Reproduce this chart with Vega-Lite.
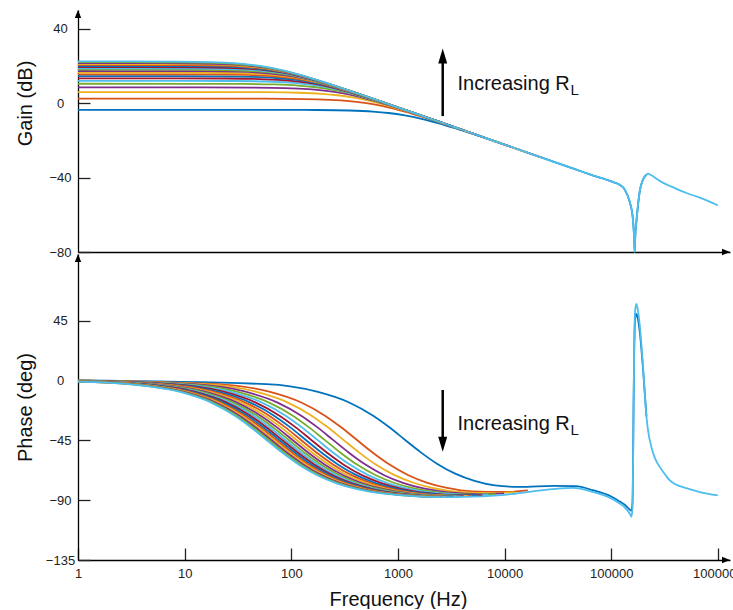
{
"$schema":"https://vega.github.io/schema/vega-lite/v6.json",
"padding":{"left":15,"top":10,"right":0,"bottom":0},
"spacing":2,
"bounds":"flush",
"config":{"view":{"stroke":null},"font":"Liberation Sans",
 "axis":{"domainColor":"#000","domainWidth":1.3,"tickColor":"#222","tickWidth":1.3,"labelColor":"#222","titleColor":"#111","labelFont":"Liberation Sans","titleFont":"Liberation Sans","titleFontWeight":"normal","labelFontSize":13,"titleFontSize":20,"grid":false,"labelOverlap":false,"labelFlush":false}},
"datasets":{
"gain":[
{"n":1,"f":1,"g":-3.61},{"n":1,"f":58.1,"g":-3.62},{"n":1,"f":174.3,"g":-3.71},{"n":1,"f":348.6,"g":-3.98},{"n":1,"f":581,"g":-4.58},{"n":1,"f":813.4,"g":-5.34},{"n":1,"f":1162,"g":-6.62},{"n":1,"f":1626.8,"g":-8.29},{"n":1,"f":2324,"g":-10.6},{"n":1,"f":3486,"g":-13.61},{"n":1,"f":5229,"g":-16.88},{"n":1,"f":8134,"g":-20.6},{"n":1,"f":13944,"g":-25.22},{"n":1,"f":29050,"g":-31.58},{"n":1,"f":46480,"g":-35.65},{"n":1,"f":67000,"g":-38.82},{"n":1,"f":100000,"g":-42.1},{"n":1,"f":120000,"g":-43.9},{"n":1,"f":134000,"g":-46.5},{"n":1,"f":149000,"g":-53},{"n":1,"f":155000,"g":-57},{"n":1,"f":158500,"g":-60.5},{"n":1,"f":160000,"g":-63},{"n":1,"f":162000,"g":-67},{"n":1,"f":164500,"g":-74},{"n":1,"f":166000,"g":-80},{"n":1,"f":168000,"g":-72},{"n":1,"f":172000,"g":-64},{"n":1,"f":174600,"g":-60},{"n":1,"f":185000,"g":-47.5},{"n":1,"f":199000,"g":-41},{"n":1,"f":214000,"g":-38.5},
{"n":2,"f":1,"g":2.41},{"n":2,"f":29.05,"g":2.4},{"n":2,"f":87.15,"g":2.31},{"n":2,"f":174.3,"g":2.04},{"n":2,"f":290.5,"g":1.44},{"n":2,"f":406.7,"g":0.68},{"n":2,"f":581,"g":-0.6},{"n":2,"f":813.4,"g":-2.27},{"n":2,"f":1162,"g":-4.58},{"n":2,"f":1743,"g":-7.59},{"n":2,"f":2614.5,"g":-10.86},{"n":2,"f":4067,"g":-14.58},{"n":2,"f":6972,"g":-19.2},{"n":2,"f":14525,"g":-25.56},{"n":2,"f":23240,"g":-29.63},
{"n":3,"f":1,"g":5.93},{"n":3,"f":19.37,"g":5.92},{"n":3,"f":58.1,"g":5.83},{"n":3,"f":116.2,"g":5.56},{"n":3,"f":193.7,"g":4.96},{"n":3,"f":271.1,"g":4.2},{"n":3,"f":387.3,"g":2.92},{"n":3,"f":542.2,"g":1.25},{"n":3,"f":774.6,"g":-1.06},{"n":3,"f":1162,"g":-4.07},{"n":3,"f":1743,"g":-7.34},{"n":3,"f":2711,"g":-11.06},{"n":3,"f":4648,"g":-15.68},{"n":3,"f":9683,"g":-22.04},{"n":3,"f":15492,"g":-26.11},
{"n":4,"f":1,"g":8.43},{"n":4,"f":14.53,"g":8.42},{"n":4,"f":43.58,"g":8.33},{"n":4,"f":87.15,"g":8.06},{"n":4,"f":145.25,"g":7.46},{"n":4,"f":203.35,"g":6.7},{"n":4,"f":290.5,"g":5.42},{"n":4,"f":406.7,"g":3.75},{"n":4,"f":581,"g":1.44},{"n":4,"f":871.5,"g":-1.57},{"n":4,"f":1307,"g":-4.84},{"n":4,"f":2033.5,"g":-8.56},{"n":4,"f":3486,"g":-13.18},{"n":4,"f":7262.5,"g":-19.54},{"n":4,"f":11620,"g":-23.61},
{"n":5,"f":1,"g":10.37},{"n":5,"f":11.62,"g":10.36},{"n":5,"f":34.86,"g":10.27},{"n":5,"f":69.72,"g":10},{"n":5,"f":116.2,"g":9.4},{"n":5,"f":162.7,"g":8.64},{"n":5,"f":232.4,"g":7.36},{"n":5,"f":325.4,"g":5.69},{"n":5,"f":464.8,"g":3.38},{"n":5,"f":697.2,"g":0.37},{"n":5,"f":1045.8,"g":-2.9},{"n":5,"f":1626.8,"g":-6.62},{"n":5,"f":2788.8,"g":-11.24},{"n":5,"f":5810,"g":-17.6},{"n":5,"f":9296,"g":-21.67},
{"n":6,"f":1,"g":11.95},{"n":6,"f":9.685,"g":11.94},{"n":6,"f":29.06,"g":11.85},{"n":6,"f":58.11,"g":11.58},{"n":6,"f":96.85,"g":10.98},{"n":6,"f":135.6,"g":10.22},{"n":6,"f":193.7,"g":8.94},{"n":6,"f":271.2,"g":7.27},{"n":6,"f":387.4,"g":4.96},{"n":6,"f":581.1,"g":1.95},{"n":6,"f":871.7,"g":-1.32},{"n":6,"f":1355.9,"g":-5.04},{"n":6,"f":2324.4,"g":-9.66},{"n":6,"f":4842.5,"g":-16.02},{"n":6,"f":7748,"g":-20.09},
{"n":7,"f":1,"g":13.29},{"n":7,"f":8.3,"g":13.28},{"n":7,"f":24.9,"g":13.19},{"n":7,"f":49.8,"g":12.92},{"n":7,"f":83,"g":12.32},{"n":7,"f":116.2,"g":11.56},{"n":7,"f":166,"g":10.28},{"n":7,"f":232.4,"g":8.61},{"n":7,"f":332,"g":6.3},{"n":7,"f":498,"g":3.29},{"n":7,"f":747,"g":0.02},{"n":7,"f":1162,"g":-3.7},{"n":7,"f":1992,"g":-8.32},{"n":7,"f":4150,"g":-14.68},{"n":7,"f":6640,"g":-18.75},
{"n":8,"f":1,"g":14.45},{"n":8,"f":7.26,"g":14.44},{"n":8,"f":21.79,"g":14.35},{"n":8,"f":43.58,"g":14.08},{"n":8,"f":72.63,"g":13.48},{"n":8,"f":101.7,"g":12.72},{"n":8,"f":145.25,"g":11.44},{"n":8,"f":203.35,"g":9.77},{"n":8,"f":290.5,"g":7.46},{"n":8,"f":435.75,"g":4.45},{"n":8,"f":653.6,"g":1.18},{"n":8,"f":1016.75,"g":-2.54},{"n":8,"f":1743,"g":-7.16},{"n":8,"f":3631,"g":-13.52},{"n":8,"f":5810,"g":-17.59},
{"n":9,"f":1,"g":15.47},{"n":9,"f":6.46,"g":15.46},{"n":9,"f":19.37,"g":15.37},{"n":9,"f":38.73,"g":15.1},{"n":9,"f":64.55,"g":14.5},{"n":9,"f":90.37,"g":13.74},{"n":9,"f":129.1,"g":12.46},{"n":9,"f":180.7,"g":10.79},{"n":9,"f":258.2,"g":8.48},{"n":9,"f":387.3,"g":5.47},{"n":9,"f":581,"g":2.2},{"n":9,"f":903.7,"g":-1.52},{"n":9,"f":1549,"g":-6.14},{"n":9,"f":3228,"g":-12.5},{"n":9,"f":5164,"g":-16.57},
{"n":10,"f":1,"g":16.39},{"n":10,"f":5.81,"g":16.38},{"n":10,"f":17.43,"g":16.29},{"n":10,"f":34.86,"g":16.02},{"n":10,"f":58.1,"g":15.42},{"n":10,"f":81.34,"g":14.66},{"n":10,"f":116.2,"g":13.38},{"n":10,"f":162.7,"g":11.71},{"n":10,"f":232.4,"g":9.4},{"n":10,"f":348.6,"g":6.39},{"n":10,"f":522.9,"g":3.12},{"n":10,"f":813.4,"g":-0.6},{"n":10,"f":1394,"g":-5.22},{"n":10,"f":2905,"g":-11.58},{"n":10,"f":4648,"g":-15.65},
{"n":11,"f":1,"g":17.22},{"n":11,"f":5.28,"g":17.21},{"n":11,"f":15.84,"g":17.12},{"n":11,"f":31.68,"g":16.85},{"n":11,"f":52.8,"g":16.25},{"n":11,"f":73.92,"g":15.49},{"n":11,"f":105.6,"g":14.21},{"n":11,"f":147.8,"g":12.54},{"n":11,"f":211.2,"g":10.23},{"n":11,"f":316.8,"g":7.22},{"n":11,"f":475.2,"g":3.95},{"n":11,"f":739.2,"g":0.23},{"n":11,"f":1267,"g":-4.39},{"n":11,"f":2640,"g":-10.75},{"n":11,"f":4224,"g":-14.82},
{"n":12,"f":1,"g":17.97},{"n":12,"f":4.84,"g":17.96},{"n":12,"f":14.52,"g":17.87},{"n":12,"f":29.05,"g":17.6},{"n":12,"f":48.42,"g":17},{"n":12,"f":67.78,"g":16.24},{"n":12,"f":96.83,"g":14.96},{"n":12,"f":135.6,"g":13.29},{"n":12,"f":193.7,"g":10.98},{"n":12,"f":290.5,"g":7.97},{"n":12,"f":435.7,"g":4.7},{"n":12,"f":677.8,"g":0.98},{"n":12,"f":1162,"g":-3.64},{"n":12,"f":2421,"g":-10},{"n":12,"f":3873,"g":-14.07},
{"n":13,"f":1,"g":18.67},{"n":13,"f":4.47,"g":18.66},{"n":13,"f":13.41,"g":18.57},{"n":13,"f":26.81,"g":18.3},{"n":13,"f":44.69,"g":17.7},{"n":13,"f":62.57,"g":16.94},{"n":13,"f":89.38,"g":15.66},{"n":13,"f":125.1,"g":13.99},{"n":13,"f":178.8,"g":11.68},{"n":13,"f":268.1,"g":8.67},{"n":13,"f":402.2,"g":5.4},{"n":13,"f":625.7,"g":1.68},{"n":13,"f":1072.6,"g":-2.94},{"n":13,"f":2234.5,"g":-9.3},{"n":13,"f":3575,"g":-13.37},
{"n":14,"f":1,"g":19.31},{"n":14,"f":4.15,"g":19.3},{"n":14,"f":12.45,"g":19.21},{"n":14,"f":24.9,"g":18.94},{"n":14,"f":41.5,"g":18.34},{"n":14,"f":58.1,"g":17.58},{"n":14,"f":83,"g":16.3},{"n":14,"f":116.2,"g":14.63},{"n":14,"f":166,"g":12.32},{"n":14,"f":249,"g":9.31},{"n":14,"f":373.5,"g":6.04},{"n":14,"f":581,"g":2.32},{"n":14,"f":996,"g":-2.3},{"n":14,"f":2075,"g":-8.66},{"n":14,"f":3320,"g":-12.73},
{"n":15,"f":1,"g":19.91},{"n":15,"f":3.87,"g":19.9},{"n":15,"f":11.62,"g":19.81},{"n":15,"f":23.24,"g":19.54},{"n":15,"f":38.74,"g":18.94},{"n":15,"f":54.23,"g":18.18},{"n":15,"f":77.47,"g":16.9},{"n":15,"f":108.5,"g":15.23},{"n":15,"f":154.9,"g":12.92},{"n":15,"f":232.4,"g":9.91},{"n":15,"f":348.6,"g":6.64},{"n":15,"f":542.3,"g":2.92},{"n":15,"f":929.6,"g":-1.7},{"n":15,"f":1936.8,"g":-8.06},{"n":15,"f":3099,"g":-12.13},
{"n":16,"f":1,"g":20.47},{"n":16,"f":3.63,"g":20.46},{"n":16,"f":10.89,"g":20.37},{"n":16,"f":21.79,"g":20.1},{"n":16,"f":36.32,"g":19.5},{"n":16,"f":50.84,"g":18.74},{"n":16,"f":72.63,"g":17.46},{"n":16,"f":101.7,"g":15.79},{"n":16,"f":145.3,"g":13.48},{"n":16,"f":217.9,"g":10.47},{"n":16,"f":326.8,"g":7.2},{"n":16,"f":508.4,"g":3.48},{"n":16,"f":871.6,"g":-1.14},{"n":16,"f":1815.8,"g":-7.5},{"n":16,"f":2905,"g":-11.57},
{"n":17,"f":1,"g":21},{"n":17,"f":3.42,"g":20.99},{"n":17,"f":10.25,"g":20.9},{"n":17,"f":20.51,"g":20.63},{"n":17,"f":34.18,"g":20.03},{"n":17,"f":47.85,"g":19.27},{"n":17,"f":68.35,"g":17.99},{"n":17,"f":95.69,"g":16.32},{"n":17,"f":136.7,"g":14.01},{"n":17,"f":205.1,"g":11},{"n":17,"f":307.6,"g":7.73},{"n":17,"f":478.5,"g":4.01},{"n":17,"f":820.2,"g":-0.61},{"n":17,"f":1708.8,"g":-6.97},{"n":17,"f":2734,"g":-11.04},
{"n":18,"f":1,"g":21.5},{"n":18,"f":3.23,"g":21.49},{"n":18,"f":9.68,"g":21.4},{"n":18,"f":19.37,"g":21.13},{"n":18,"f":32.28,"g":20.53},{"n":18,"f":45.19,"g":19.77},{"n":18,"f":64.56,"g":18.49},{"n":18,"f":90.38,"g":16.82},{"n":18,"f":129.1,"g":14.51},{"n":18,"f":193.7,"g":11.5},{"n":18,"f":290.5,"g":8.23},{"n":18,"f":451.9,"g":4.51},{"n":18,"f":774.7,"g":-0.11},{"n":18,"f":1614,"g":-6.47},{"n":18,"f":2582,"g":-10.54},
{"n":19,"f":1,"g":21.97},{"n":19,"f":3.06,"g":21.96},{"n":19,"f":9.17,"g":21.87},{"n":19,"f":18.35,"g":21.6},{"n":19,"f":30.58,"g":21},{"n":19,"f":42.81,"g":20.24},{"n":19,"f":61.16,"g":18.96},{"n":19,"f":85.62,"g":17.29},{"n":19,"f":122.3,"g":14.98},{"n":19,"f":183.5,"g":11.97},{"n":19,"f":275.2,"g":8.7},{"n":19,"f":428.1,"g":4.98},{"n":19,"f":733.9,"g":0.36},{"n":19,"f":1529,"g":-6},{"n":19,"f":2446,"g":-10.07},
{"n":20,"f":1,"g":22.41},{"n":20,"f":2.905,"g":22.4},{"n":20,"f":8.715,"g":22.31},{"n":20,"f":17.43,"g":22.04},{"n":20,"f":29.05,"g":21.44},{"n":20,"f":40.67,"g":20.68},{"n":20,"f":58.1,"g":19.4},{"n":20,"f":81.34,"g":17.73},{"n":20,"f":116.2,"g":15.42},{"n":20,"f":174.3,"g":12.41},{"n":20,"f":261.45,"g":9.14},{"n":20,"f":406.7,"g":5.42},{"n":20,"f":697.2,"g":0.8},{"n":20,"f":1452.5,"g":-5.56},{"n":20,"f":2324,"g":-9.63},{"n":20,"f":5000,"g":-16.28},{"n":20,"f":10000,"g":-22.3},{"n":20,"f":20000,"g":-28.32},{"n":20,"f":30000,"g":-31.84},{"n":20,"f":44000,"g":-35.17},{"n":20,"f":67000,"g":-38.82},{"n":20,"f":100000,"g":-42.1},{"n":20,"f":120000,"g":-43.9},{"n":20,"f":134000,"g":-46.5},{"n":20,"f":149000,"g":-53},{"n":20,"f":155000,"g":-57},{"n":20,"f":158500,"g":-60.5},{"n":20,"f":160000,"g":-63},{"n":20,"f":162000,"g":-67},{"n":20,"f":164500,"g":-74},{"n":20,"f":166000,"g":-80},{"n":20,"f":168000,"g":-72},{"n":20,"f":172000,"g":-64},{"n":20,"f":174600,"g":-60},{"n":20,"f":185000,"g":-47.5},{"n":20,"f":199000,"g":-41},{"n":20,"f":214000,"g":-38.5},{"n":20,"f":221000,"g":-37.9},{"n":20,"f":238000,"g":-38.8},{"n":20,"f":256000,"g":-40},{"n":20,"f":285000,"g":-41.8},{"n":20,"f":329000,"g":-43.7},{"n":20,"f":353000,"g":-44.5},{"n":20,"f":471000,"g":-47.6},{"n":20,"f":507000,"g":-48.3},{"n":20,"f":675000,"g":-50.8},{"n":20,"f":1000000,"g":-54.9}
],
"phase":[
{"n":1,"f":1,"p":-0.05},{"n":1,"f":58.1,"p":-2.8},{"n":1,"f":174.3,"p":-8.5},{"n":1,"f":348.6,"p":-16.6},{"n":1,"f":581,"p":-26.4},{"n":1,"f":813.4,"p":-34.7},{"n":1,"f":1162,"p":-44.6},{"n":1,"f":1626.8,"p":-53.9},{"n":1,"f":2324,"p":-62.6},{"n":1,"f":3486,"p":-70.3},{"n":1,"f":5229,"p":-75.5},{"n":1,"f":8134,"p":-78.9},{"n":1,"f":13944,"p":-80.1},{"n":1,"f":29050,"p":-79.3},{"n":1,"f":46480,"p":-79.5},{"n":1,"f":67000,"p":-82.5},{"n":1,"f":100000,"p":-87.3},{"n":1,"f":120000,"p":-91},{"n":1,"f":134000,"p":-93.5},{"n":1,"f":149000,"p":-97},{"n":1,"f":155000,"p":-98},{"n":1,"f":158500,"p":-91},{"n":1,"f":160000,"p":-66},{"n":1,"f":162000,"p":-20},{"n":1,"f":164500,"p":25},{"n":1,"f":166000,"p":40},{"n":1,"f":168000,"p":47},{"n":1,"f":172000,"p":50},{"n":1,"f":174600,"p":49},{"n":1,"f":185000,"p":37},{"n":1,"f":199000,"p":8},{"n":1,"f":214000,"p":-27},
{"n":2,"f":1,"p":-0.14},{"n":2,"f":20.67,"p":-2.86},{"n":2,"f":62,"p":-8.51},{"n":2,"f":124,"p":-16.65},{"n":2,"f":206.7,"p":-26.49},{"n":2,"f":289.3,"p":-34.88},{"n":2,"f":413.3,"p":-44.85},{"n":2,"f":578.6,"p":-54.25},{"n":2,"f":826.6,"p":-63.12},{"n":2,"f":1240,"p":-71.11},{"n":2,"f":1860,"p":-76.78},{"n":2,"f":2893,"p":-80.8},{"n":2,"f":4960,"p":-83.4},{"n":2,"f":10333,"p":-83.9},{"n":2,"f":16532,"p":-82.7},
{"n":3,"f":1,"p":-0.18},{"n":3,"f":15.5,"p":-2.86},{"n":3,"f":46.5,"p":-8.51},{"n":3,"f":93,"p":-16.67},{"n":3,"f":155,"p":-26.51},{"n":3,"f":217,"p":-34.91},{"n":3,"f":310,"p":-44.89},{"n":3,"f":434,"p":-54.3},{"n":3,"f":620,"p":-63.2},{"n":3,"f":930,"p":-71.23},{"n":3,"f":1395,"p":-76.95},{"n":3,"f":2170,"p":-81.07},{"n":3,"f":3720,"p":-83.86},{"n":3,"f":7750,"p":-84.84},{"n":3,"f":12400,"p":-83.97},
{"n":4,"f":1,"p":-0.23},{"n":4,"f":12.4,"p":-2.86},{"n":4,"f":37.2,"p":-8.52},{"n":4,"f":74.4,"p":-16.67},{"n":4,"f":124,"p":-26.52},{"n":4,"f":173.6,"p":-34.93},{"n":4,"f":248,"p":-44.91},{"n":4,"f":347.2,"p":-54.33},{"n":4,"f":496,"p":-63.25},{"n":4,"f":744,"p":-71.29},{"n":4,"f":1116,"p":-77.06},{"n":4,"f":1736,"p":-81.23},{"n":4,"f":2976,"p":-84.14},{"n":4,"f":6200,"p":-85.42},{"n":4,"f":9920,"p":-84.9},
{"n":5,"f":1,"p":-0.28},{"n":5,"f":10.34,"p":-2.86},{"n":5,"f":31,"p":-8.52},{"n":5,"f":62,"p":-16.68},{"n":5,"f":103.4,"p":-26.53},{"n":5,"f":144.7,"p":-34.94},{"n":5,"f":206.7,"p":-44.92},{"n":5,"f":289.4,"p":-54.35},{"n":5,"f":413.4,"p":-63.28},{"n":5,"f":620.1,"p":-71.34},{"n":5,"f":930.2,"p":-77.13},{"n":5,"f":1447,"p":-81.33},{"n":5,"f":2480,"p":-84.32},{"n":5,"f":5168,"p":-85.8},{"n":5,"f":8268,"p":-85.51},
{"n":6,"f":1,"p":-0.32},{"n":6,"f":8.86,"p":-2.86},{"n":6,"f":26.57,"p":-8.52},{"n":6,"f":53.13,"p":-16.68},{"n":6,"f":88.55,"p":-26.54},{"n":6,"f":124,"p":-34.94},{"n":6,"f":177.1,"p":-44.93},{"n":6,"f":247.9,"p":-54.37},{"n":6,"f":354.2,"p":-63.3},{"n":6,"f":531.3,"p":-71.37},{"n":6,"f":797,"p":-77.18},{"n":6,"f":1240,"p":-81.41},{"n":6,"f":2125,"p":-84.45},{"n":6,"f":4428,"p":-86.07},{"n":6,"f":7084,"p":-85.95},
{"n":7,"f":1,"p":-0.37},{"n":7,"f":7.75,"p":-2.86},{"n":7,"f":23.25,"p":-8.52},{"n":7,"f":46.5,"p":-16.68},{"n":7,"f":77.5,"p":-26.54},{"n":7,"f":108.5,"p":-34.95},{"n":7,"f":155,"p":-44.94},{"n":7,"f":217,"p":-54.38},{"n":7,"f":310,"p":-63.32},{"n":7,"f":465,"p":-71.4},{"n":7,"f":697.5,"p":-77.21},{"n":7,"f":1085,"p":-81.47},{"n":7,"f":1860,"p":-84.55},{"n":7,"f":3875,"p":-86.28},{"n":7,"f":6200,"p":-86.28},
{"n":8,"f":1,"p":-0.42},{"n":8,"f":6.89,"p":-2.86},{"n":8,"f":20.67,"p":-8.52},{"n":8,"f":41.34,"p":-16.68},{"n":8,"f":68.9,"p":-26.54},{"n":8,"f":96.46,"p":-34.95},{"n":8,"f":137.8,"p":-44.95},{"n":8,"f":192.9,"p":-54.39},{"n":8,"f":275.6,"p":-63.33},{"n":8,"f":413.4,"p":-71.42},{"n":8,"f":620.1,"p":-77.24},{"n":8,"f":964.6,"p":-81.51},{"n":8,"f":1654,"p":-84.63},{"n":8,"f":3445,"p":-86.44},{"n":8,"f":5512,"p":-86.53},
{"n":9,"f":1,"p":-0.46},{"n":9,"f":6.2,"p":-2.86},{"n":9,"f":18.6,"p":-8.52},{"n":9,"f":37.2,"p":-16.69},{"n":9,"f":62,"p":-26.55},{"n":9,"f":86.8,"p":-34.96},{"n":9,"f":124,"p":-44.95},{"n":9,"f":173.6,"p":-54.4},{"n":9,"f":248,"p":-63.34},{"n":9,"f":372,"p":-71.43},{"n":9,"f":558,"p":-77.26},{"n":9,"f":868,"p":-81.55},{"n":9,"f":1488,"p":-84.69},{"n":9,"f":3100,"p":-86.56},{"n":9,"f":4960,"p":-86.73},
{"n":10,"f":1,"p":-0.51},{"n":10,"f":5.64,"p":-2.86},{"n":10,"f":16.91,"p":-8.52},{"n":10,"f":33.81,"p":-16.69},{"n":10,"f":56.35,"p":-26.55},{"n":10,"f":78.89,"p":-34.96},{"n":10,"f":112.7,"p":-44.96},{"n":10,"f":157.8,"p":-54.4},{"n":10,"f":225.4,"p":-63.35},{"n":10,"f":338.1,"p":-71.44},{"n":10,"f":507.2,"p":-77.28},{"n":10,"f":788.9,"p":-81.58},{"n":10,"f":1352,"p":-84.74},{"n":10,"f":2818,"p":-86.67},{"n":10,"f":4508,"p":-86.9},
{"n":11,"f":1,"p":-0.55},{"n":11,"f":5.17,"p":-2.86},{"n":11,"f":15.5,"p":-8.52},{"n":11,"f":30.99,"p":-16.69},{"n":11,"f":51.65,"p":-26.55},{"n":11,"f":72.31,"p":-34.96},{"n":11,"f":103.3,"p":-44.96},{"n":11,"f":144.6,"p":-54.41},{"n":11,"f":206.6,"p":-63.35},{"n":11,"f":309.9,"p":-71.46},{"n":11,"f":464.9,"p":-77.3},{"n":11,"f":723.1,"p":-81.6},{"n":11,"f":1240,"p":-84.78},{"n":11,"f":2583,"p":-86.75},{"n":11,"f":4132,"p":-87.04},
{"n":12,"f":1,"p":-0.6},{"n":12,"f":4.77,"p":-2.86},{"n":12,"f":14.31,"p":-8.52},{"n":12,"f":28.61,"p":-16.69},{"n":12,"f":47.69,"p":-26.55},{"n":12,"f":66.77,"p":-34.97},{"n":12,"f":95.38,"p":-44.96},{"n":12,"f":133.5,"p":-54.41},{"n":12,"f":190.8,"p":-63.36},{"n":12,"f":286.1,"p":-71.46},{"n":12,"f":429.2,"p":-77.31},{"n":12,"f":667.7,"p":-81.62},{"n":12,"f":1145,"p":-84.82},{"n":12,"f":2385,"p":-86.83},{"n":12,"f":3815,"p":-87.16},
{"n":13,"f":1,"p":-0.65},{"n":13,"f":4.43,"p":-2.86},{"n":13,"f":13.29,"p":-8.53},{"n":13,"f":26.57,"p":-16.69},{"n":13,"f":44.29,"p":-26.55},{"n":13,"f":62,"p":-34.97},{"n":13,"f":88.57,"p":-44.97},{"n":13,"f":124,"p":-54.41},{"n":13,"f":177.1,"p":-63.36},{"n":13,"f":265.7,"p":-71.47},{"n":13,"f":398.6,"p":-77.32},{"n":13,"f":620,"p":-81.64},{"n":13,"f":1063,"p":-84.85},{"n":13,"f":2214,"p":-86.89},{"n":13,"f":3543,"p":-87.26},
{"n":14,"f":1,"p":-0.69},{"n":14,"f":4.13,"p":-2.86},{"n":14,"f":12.4,"p":-8.53},{"n":14,"f":24.8,"p":-16.69},{"n":14,"f":41.34,"p":-26.55},{"n":14,"f":57.87,"p":-34.97},{"n":14,"f":82.67,"p":-44.97},{"n":14,"f":115.7,"p":-54.42},{"n":14,"f":165.3,"p":-63.37},{"n":14,"f":248,"p":-71.48},{"n":14,"f":372,"p":-77.33},{"n":14,"f":578.7,"p":-81.66},{"n":14,"f":992,"p":-84.87},{"n":14,"f":2067,"p":-86.95},{"n":14,"f":3307,"p":-87.35},
{"n":15,"f":1,"p":-0.74},{"n":15,"f":3.88,"p":-2.86},{"n":15,"f":11.63,"p":-8.53},{"n":15,"f":23.25,"p":-16.69},{"n":15,"f":38.75,"p":-26.56},{"n":15,"f":54.25,"p":-34.97},{"n":15,"f":77.5,"p":-44.97},{"n":15,"f":108.5,"p":-54.42},{"n":15,"f":155,"p":-63.37},{"n":15,"f":232.5,"p":-71.48},{"n":15,"f":348.8,"p":-77.34},{"n":15,"f":542.5,"p":-81.67},{"n":15,"f":930,"p":-84.9},{"n":15,"f":1938,"p":-86.99},{"n":15,"f":3100,"p":-87.42},
{"n":16,"f":1,"p":-0.79},{"n":16,"f":3.65,"p":-2.86},{"n":16,"f":10.94,"p":-8.53},{"n":16,"f":21.88,"p":-16.69},{"n":16,"f":36.47,"p":-26.56},{"n":16,"f":51.06,"p":-34.97},{"n":16,"f":72.94,"p":-44.97},{"n":16,"f":102.1,"p":-54.42},{"n":16,"f":145.9,"p":-63.38},{"n":16,"f":218.8,"p":-71.49},{"n":16,"f":328.2,"p":-77.35},{"n":16,"f":510.6,"p":-81.68},{"n":16,"f":875.3,"p":-84.92},{"n":16,"f":1824,"p":-87.04},{"n":16,"f":2918,"p":-87.49},
{"n":17,"f":1,"p":-0.83},{"n":17,"f":3.44,"p":-2.86},{"n":17,"f":10.33,"p":-8.53},{"n":17,"f":20.67,"p":-16.69},{"n":17,"f":34.45,"p":-26.56},{"n":17,"f":48.22,"p":-34.97},{"n":17,"f":68.89,"p":-44.97},{"n":17,"f":96.45,"p":-54.42},{"n":17,"f":137.8,"p":-63.38},{"n":17,"f":206.7,"p":-71.49},{"n":17,"f":310,"p":-77.36},{"n":17,"f":482.2,"p":-81.69},{"n":17,"f":826.7,"p":-84.93},{"n":17,"f":1722,"p":-87.07},{"n":17,"f":2756,"p":-87.55},
{"n":18,"f":1,"p":-0.88},{"n":18,"f":3.26,"p":-2.86},{"n":18,"f":9.79,"p":-8.53},{"n":18,"f":19.58,"p":-16.69},{"n":18,"f":32.63,"p":-26.56},{"n":18,"f":45.68,"p":-34.97},{"n":18,"f":65.26,"p":-44.98},{"n":18,"f":91.36,"p":-54.43},{"n":18,"f":130.5,"p":-63.38},{"n":18,"f":195.8,"p":-71.5},{"n":18,"f":293.7,"p":-77.36},{"n":18,"f":456.8,"p":-81.7},{"n":18,"f":783.1,"p":-84.95},{"n":18,"f":1632,"p":-87.11},{"n":18,"f":2610,"p":-87.6},
{"n":19,"f":1,"p":-0.92},{"n":19,"f":3.1,"p":-2.86},{"n":19,"f":9.3,"p":-8.53},{"n":19,"f":18.6,"p":-16.69},{"n":19,"f":31,"p":-26.56},{"n":19,"f":43.4,"p":-34.97},{"n":19,"f":62,"p":-44.98},{"n":19,"f":86.8,"p":-54.43},{"n":19,"f":124,"p":-63.38},{"n":19,"f":186,"p":-71.5},{"n":19,"f":279,"p":-77.37},{"n":19,"f":434,"p":-81.71},{"n":19,"f":744,"p":-84.96},{"n":19,"f":1550,"p":-87.14},{"n":19,"f":2480,"p":-87.65},
{"n":20,"f":1,"p":-0.97},{"n":20,"f":2.95,"p":-2.86},{"n":20,"f":8.86,"p":-8.53},{"n":20,"f":17.72,"p":-16.69},{"n":20,"f":29.53,"p":-26.56},{"n":20,"f":41.34,"p":-34.97},{"n":20,"f":59.05,"p":-44.98},{"n":20,"f":82.67,"p":-54.43},{"n":20,"f":118.1,"p":-63.39},{"n":20,"f":177.2,"p":-71.5},{"n":20,"f":265.7,"p":-77.37},{"n":20,"f":413.4,"p":-81.72},{"n":20,"f":708.6,"p":-84.98},{"n":20,"f":1476,"p":-87.16},{"n":20,"f":2362,"p":-87.7},{"n":20,"f":5000,"p":-87.3},{"n":20,"f":10000,"p":-86},{"n":20,"f":20000,"p":-83},{"n":20,"f":30000,"p":-81.5},{"n":20,"f":44000,"p":-80.8},{"n":20,"f":67000,"p":-83.8},{"n":20,"f":100000,"p":-88.7},{"n":20,"f":120000,"p":-92.5},{"n":20,"f":134000,"p":-95.5},{"n":20,"f":149000,"p":-100},{"n":20,"f":155000,"p":-102.5},{"n":20,"f":158500,"p":-95},{"n":20,"f":160000,"p":-70},{"n":20,"f":162000,"p":-20},{"n":20,"f":164500,"p":30},{"n":20,"f":166000,"p":45},{"n":20,"f":168000,"p":53},{"n":20,"f":172000,"p":57.5},{"n":20,"f":174600,"p":56},{"n":20,"f":185000,"p":42},{"n":20,"f":199000,"p":10},{"n":20,"f":214000,"p":-27},{"n":20,"f":221000,"p":-37},{"n":20,"f":238000,"p":-50},{"n":20,"f":256000,"p":-58},{"n":20,"f":285000,"p":-65},{"n":20,"f":329000,"p":-72},{"n":20,"f":353000,"p":-75},{"n":20,"f":471000,"p":-80.3},{"n":20,"f":507000,"p":-81},{"n":20,"f":675000,"p":-84},{"n":20,"f":1000000,"p":-86.5}
]},
"vconcat":[
{"width":652,"height":242,
 "layer":[
  {"data":{"name":"gain"},"mark":{"type":"line","strokeWidth":1.8,"interpolate":"monotone"},
   "encoding":{
    "x":{"field":"f","type":"quantitative","scale":{"type":"log","domain":[1,1300000],"nice":false},"axis":{"title":null,"labels":false,"ticks":false}},
    "y":{"field":"g","type":"quantitative","scale":{"domain":[-80,50],"nice":false},"axis":{"title":"Gain (dB)","values":[-80,-40,0,40],"tickSize":-12,"labelPadding":30,"labelAlign":"center","labelBaseline":"middle","titleX":-53,"titleY":93,"titleBaseline":"middle","titleAngle":-90}},
    "color":{"field":"n","type":"nominal","legend":null,"scale":{"domain":[1,2,3,4,5,6,7,8,9,10,11,12,13,14,15,16,17,18,19,20],"range":["#0072BD","#D95319","#EDB120","#7E2F8E","#77AC30","#4DBEEE","#A2142F","#0072BD","#D95319","#EDB120","#7E2F8E","#77AC30","#4DBEEE","#A2142F","#0072BD","#D95319","#EDB120","#7E2F8E","#77AC30","#4DBEEE"]}}
   }},
  {"data":{"values":[{}]},"mark":{"type":"rule","strokeWidth":2.5,"color":"#000"},"encoding":{"x":{"datum":2630},"y":{"datum":-7},"y2":{"datum":22}}},
  {"data":{"values":[{}]},"mark":{"type":"point","shape":"M0,0L-0.3,1L0.3,1Z","size":900,"filled":true,"opacity":1,"color":"#000"},"encoding":{"x":{"datum":2630},"y":{"datum":29.3}}},
  {"data":{"values":[{}]},"mark":{"type":"text","text":"Increasing R","align":"left","baseline":"alphabetic","fontSize":20,"font":"Liberation Sans","color":"#111"},"encoding":{"x":{"datum":3621},"y":{"datum":6.8}}},
  {"data":{"values":[{}]},"mark":{"type":"text","text":"L","align":"left","baseline":"alphabetic","fontSize":15,"dx":113,"font":"Liberation Sans","color":"#111"},"encoding":{"x":{"datum":3621},"y":{"datum":4.1}}},
  {"data":{"values":[{}]},"mark":{"type":"point","shape":"M0,0L-0.4,1L0.4,1Z","size":256,"filled":true,"opacity":1,"color":"#000"},"encoding":{"x":{"datum":1},"y":{"datum":50}}},
  {"data":{"values":[{}]},"mark":{"type":"point","shape":"M0,0L-1,-0.4L-1,0.4Z","size":256,"filled":true,"opacity":1,"color":"#000"},"encoding":{"x":{"datum":1300000},"y":{"datum":-80}}}
 ]},
{"width":652,"height":306,
 "layer":[
  {"data":{"name":"phase"},"mark":{"type":"line","strokeWidth":1.8,"interpolate":"monotone"},
   "encoding":{
    "x":{"field":"f","type":"quantitative","scale":{"type":"log","domain":[1,1300000],"nice":false},"axis":{"title":"Frequency (Hz)","values":[1,10,100,1000,10000,100000,1000000],"format":"d","tickSize":-12,"labelPadding":19,"titleX":320,"titleY":39,"titleBaseline":"middle"}},
    "y":{"field":"p","type":"quantitative","scale":{"domain":[-135,95],"nice":false},"axis":{"title":"Phase (deg)","values":[-135,-90,-45,0,45],"tickSize":-12,"labelPadding":30,"labelAlign":"center","labelBaseline":"middle","titleX":-53,"titleY":153,"titleBaseline":"middle","titleAngle":-90}},
    "color":{"field":"n","type":"nominal","legend":null,"scale":{"domain":[1,2,3,4,5,6,7,8,9,10,11,12,13,14,15,16,17,18,19,20],"range":["#0072BD","#D95319","#EDB120","#7E2F8E","#77AC30","#4DBEEE","#A2142F","#0072BD","#D95319","#EDB120","#7E2F8E","#77AC30","#4DBEEE","#A2142F","#0072BD","#D95319","#EDB120","#7E2F8E","#77AC30","#4DBEEE"]}}
   }},
  {"data":{"values":[{}]},"mark":{"type":"rule","strokeWidth":2.5,"color":"#000"},"encoding":{"x":{"datum":2630},"y":{"datum":-7.2},"y2":{"datum":-46}}},
  {"data":{"values":[{}]},"mark":{"type":"point","shape":"M0,0L-0.3,-1L0.3,-1Z","size":900,"filled":true,"opacity":1,"color":"#000"},"encoding":{"x":{"datum":2630},"y":{"datum":-53.6}}},
  {"data":{"values":[{}]},"mark":{"type":"text","text":"Increasing R","align":"left","baseline":"alphabetic","fontSize":20,"font":"Liberation Sans","color":"#111"},"encoding":{"x":{"datum":3621},"y":{"datum":-37.3}}},
  {"data":{"values":[{}]},"mark":{"type":"text","text":"L","align":"left","baseline":"alphabetic","fontSize":15,"dx":113,"font":"Liberation Sans","color":"#111"},"encoding":{"x":{"datum":3621},"y":{"datum":-41}}},
  {"data":{"values":[{}]},"mark":{"type":"point","shape":"M0,0L-0.4,1L0.4,1Z","size":256,"filled":true,"opacity":1,"color":"#000"},"encoding":{"x":{"datum":1},"y":{"datum":95}}},
  {"data":{"values":[{}]},"mark":{"type":"point","shape":"M0,0L-1,-0.4L-1,0.4Z","size":256,"filled":true,"opacity":1,"color":"#000"},"encoding":{"x":{"datum":1300000},"y":{"datum":-135}}}
 ]}
]}
